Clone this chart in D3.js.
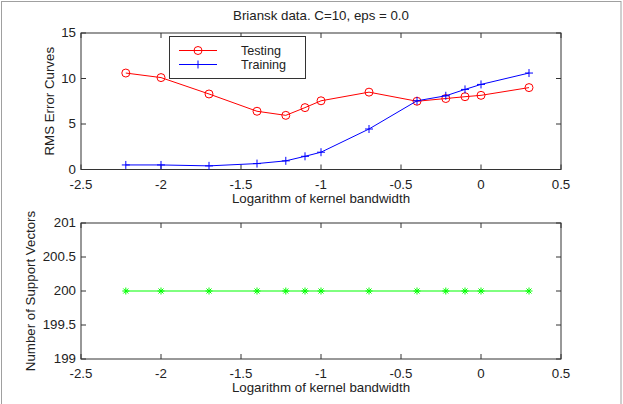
<!DOCTYPE html>
<html lang="en">
<head>
<meta charset="UTF-8">
<title>Briansk data</title>
<script src="https://d3js.org/d3.v7.min.js"></script>
<style>
    body { margin: 0; background: #fff; }
    svg { display: block; font-family: "Liberation Sans", Arial, sans-serif; }
    .axis text { font-size: 13.3px; fill: #222; }
</style>
</head>
<body>
<script>
// log10 of kernel bandwidth (0.006 ... 2)
const logBandwidth = [-2.22, -2, -1.7, -1.4, -1.22, -1.1, -1, -0.7, -0.4, -0.22, -0.1, 0, 0.3];
const testingRms  = [10.6, 10.1, 8.3, 6.4, 5.95, 6.8, 7.55, 8.5, 7.5, 7.8, 8.0, 8.15, 9.0];
const trainingRms = [0.5, 0.5, 0.4, 0.65, 0.95, 1.45, 1.9, 4.45, 7.55, 8.1, 8.8, 9.35, 10.6];
const supportVectors = [200, 200, 200, 200, 200, 200, 200, 200, 200, 200, 200, 200, 200];

const xTicks = [-2.5, -2, -1.5, -1, -0.5, 0, 0.5];
const rmsTicks = [0, 5, 10, 15];
const svTicks = [199, 199.5, 200, 200.5, 201];

const width = 623, height = 404;
const fs = 13.3;
const svg = d3.select("body").append("svg")
    .attr("width", width)
    .attr("height", height);

// figure frame
svg.append("rect")
    .attr("x", 1.5).attr("y", 1.5)
    .attr("width", 619.5).attr("height", 420)
    .attr("fill", "none")
    .attr("stroke", "#a0a0a0");

const left = 81, right = 561;
const x = d3.scaleLinear().domain([-2.5, 0.5]).range([left, right]);

function panel(top, bottom, yDomain, yTicks, yLabel, yLabelX) {
    const y = d3.scaleLinear().domain(yDomain).range([bottom, top]);
    const g = svg.append("g");

    // box
    g.append("rect")
        .attr("x", left).attr("y", top)
        .attr("width", right - left).attr("height", bottom - top)
        .attr("fill", "#fff")
        .attr("stroke", "#333");

    // inward ticks on all sides
    const tl = 5;
    g.selectAll(".xt").data(xTicks).enter().append("path")
        .attr("d", d => `M${x(d)},${bottom}v${-tl}M${x(d)},${top}v${tl}`)
        .attr("stroke", "#333");
    g.selectAll(".yt").data(yTicks).enter().append("path")
        .attr("d", d => `M${left},${y(d)}h${tl}M${right},${y(d)}h${-tl}`)
        .attr("stroke", "#333");

    // tick labels
    g.append("g").attr("class", "axis").selectAll("text").data(xTicks).enter().append("text")
        .attr("x", d => x(d))
        .attr("y", bottom + 19)
        .attr("text-anchor", "middle")
        .text(d => d);
    g.append("g").attr("class", "axis").selectAll("text").data(yTicks).enter().append("text")
        .attr("x", left - 5)
        .attr("y", d => y(d) + 4)
        .attr("text-anchor", "end")
        .text(d => d);

    g.append("text")
        .attr("x", (left + right) / 2)
        .attr("y", bottom + 33)
        .attr("text-anchor", "middle")
        .attr("font-size", fs)
        .attr("fill", "#222")
        .text("Logarithm of kernel bandwidth");

    g.append("text")
        .attr("transform", `translate(${yLabelX},${(top + bottom) / 2}) rotate(-90)`)
        .attr("text-anchor", "middle")
        .attr("font-size", fs)
        .attr("fill", "#222")
        .text(yLabel);

    return y;
}

// ---- top panel: RMS error curves
const yTop = panel(33, 169.5, [0, 15], rmsTicks, "RMS Error Curves", 54);

svg.append("text")
    .attr("x", (left + right) / 2)
    .attr("y", 20)
    .attr("text-anchor", "middle")
    .attr("font-size", fs)
    .attr("fill", "#222")
    .text("Briansk data. C=10, eps = 0.0");

const testPts = logBandwidth.map((d, i) => [d, testingRms[i]]);
const trainPts = logBandwidth.map((d, i) => [d, trainingRms[i]]);
const lineTop = d3.line().x(d => x(d[0])).y(d => yTop(d[1]));

svg.append("path").datum(testPts)
    .attr("d", lineTop).attr("fill", "none").attr("stroke", "#ff0000");
svg.selectAll(".tm").data(testPts).enter().append("circle")
    .attr("cx", d => x(d[0])).attr("cy", d => yTop(d[1]))
    .attr("r", 4).attr("fill", "none").attr("stroke", "#ff0000");

svg.append("path").datum(trainPts)
    .attr("d", lineTop).attr("fill", "none").attr("stroke", "#0000ff");
svg.selectAll(".pm").data(trainPts).enter().append("path")
    .attr("d", d => `M${x(d[0]) - 4},${yTop(d[1])}h8M${x(d[0])},${yTop(d[1]) - 4}v8`)
    .attr("stroke", "#0000ff");

// legend
const lg = svg.append("g");
lg.append("rect")
    .attr("x", 169.5).attr("y", 36.5)
    .attr("width", 136).attr("height", 42)
    .attr("fill", "#fff").attr("stroke", "#333");
const legendItems = [
    { label: "Testing", color: "#ff0000", marker: "o", y: 50.5 },
    { label: "Training", color: "#0000ff", marker: "+", y: 64.5 }
];
legendItems.forEach(it => {
    lg.append("line")
        .attr("x1", 179).attr("x2", 217)
        .attr("y1", it.y).attr("y2", it.y)
        .attr("stroke", it.color);
    if (it.marker === "o") {
        lg.append("circle").attr("cx", 198).attr("cy", it.y).attr("r", 4)
            .attr("fill", "none").attr("stroke", it.color);
    } else {
        lg.append("path").attr("d", `M194,${it.y}h8M198,${it.y - 4}v8`)
            .attr("stroke", it.color);
    }
    lg.append("text")
        .attr("x", 241).attr("y", it.y + 4.5)
        .attr("font-size", 12.6)
        .attr("fill", "#222")
        .text(it.label);
});

// ---- bottom panel: number of support vectors
const yBot = panel(223, 359, [199, 201], svTicks, "Number of Support Vectors", 35);
const svPts = logBandwidth.map((d, i) => [d, supportVectors[i]]);
const lineBot = d3.line().x(d => x(d[0])).y(d => yBot(d[1]));
svg.append("path").datum(svPts)
    .attr("d", lineBot).attr("fill", "none").attr("stroke", "#00ff00");
svg.selectAll(".sm").data(svPts).enter().append("path")
    .attr("d", d => {
        const cx = x(d[0]), cy = yBot(d[1]), s = 3.5;
        return `M${cx - s},${cy}h${2 * s}M${cx},${cy - s}v${2 * s}` +
               `M${cx - 2.5},${cy - 2.5}l5,5M${cx - 2.5},${cy + 2.5}l5,-5`;
    })
    .attr("stroke", "#00ff00")
    .attr("stroke-width", 1);
</script>
</body>
</html>
